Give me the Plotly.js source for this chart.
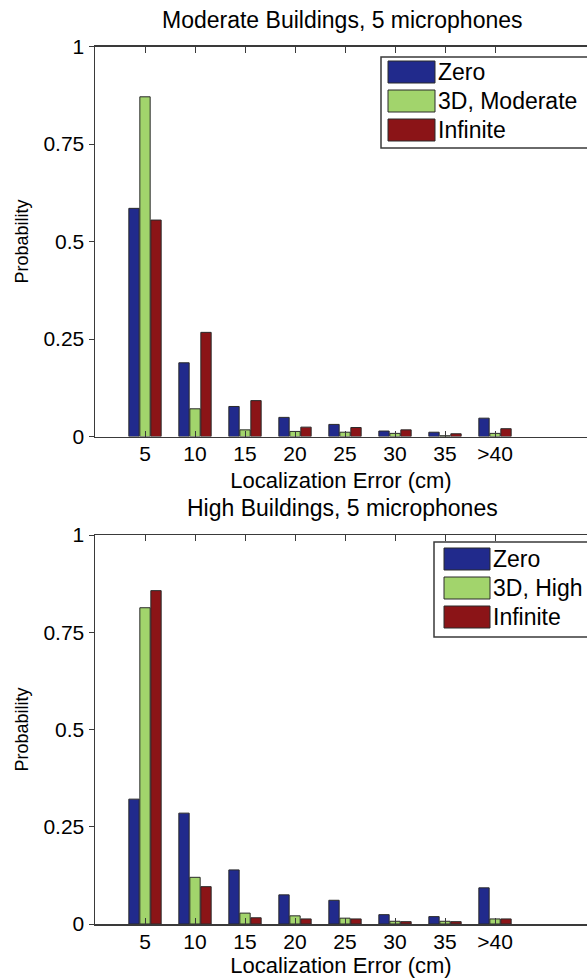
<!DOCTYPE html>
<html>
<head>
<meta charset="utf-8">
<script src="https://cdn.plot.ly/plotly-3.0.1.min.js"></script>
<style>html,body{margin:0;padding:0;background:#fff;overflow:hidden;}#chart{width:587px;height:978px;}</style>
</head>
<body>
<div id="chart"></div>
<script>
// ---- data ----
const categories = ['5', '10', '15', '20', '25', '30', '35', '>40'];
const seriesNamesTop = ['Zero', '3D, Moderate', 'Infinite'];
const seriesNamesBottom = ['Zero', '3D, High', 'Infinite'];
const topZero     = [0.585, 0.189, 0.077, 0.049, 0.031, 0.014, 0.011, 0.047];
const topModerate = [0.871, 0.071, 0.017, 0.013, 0.011, 0.008, 0.002, 0.008];
const topInfinite = [0.555, 0.267, 0.092, 0.024, 0.023, 0.017, 0.007, 0.020];
const botZero     = [0.321, 0.285, 0.139, 0.075, 0.061, 0.024, 0.019, 0.093];
const botHigh     = [0.813, 0.120, 0.028, 0.021, 0.015, 0.007, 0.007, 0.013];
const botInfinite = [0.857, 0.096, 0.016, 0.013, 0.013, 0.006, 0.006, 0.013];
const yTickVals = [0, 0.25, 0.5, 0.75, 1];
const yTickText = ['0', '0.25', '0.5', '0.75', '1'];
const titles = ['Moderate Buildings, 5 microphones', 'High Buildings, 5 microphones'];
const xTitle = 'Localization Error (cm)';
const yTitle = 'Probability';

// ---- style ----
const colors = ['#212a8c', '#a2d46c', '#8b1417'];
const edge = '#2a2a2a';
const axisColor = '#3a3a3a';
const FONT = 'Arial, "Liberation Sans", sans-serif';
const W = 587, H = 978, L = 95;
const px2x = px => (px - L) / (W - L);
const py2y = py => 1 - py / H;

function bars(vals, name, i, xa, ya) {
  return {type: 'bar', x: categories, y: vals, name: name, xaxis: xa, yaxis: ya,
    marker: {color: colors[i], line: {color: edge, width: 1}}, showlegend: false};
}
const data = [
  bars(topZero, seriesNamesTop[0], 0, 'x', 'y'),
  bars(topModerate, seriesNamesTop[1], 1, 'x', 'y'),
  bars(topInfinite, seriesNamesTop[2], 2, 'x', 'y'),
  bars(botZero, seriesNamesBottom[0], 0, 'x2', 'y2'),
  bars(botHigh, seriesNamesBottom[1], 1, 'x2', 'y2'),
  bars(botInfinite, seriesNamesBottom[2], 2, 'x2', 'y2')
];

function xax(anchor) {
  return {anchor: anchor, domain: [0, 1], type: 'category', range: [-1, -1 + (W - L) / 50],
    automargin: false,
    showgrid: false, zeroline: false, showline: true, linecolor: axisColor, linewidth: 1.5,
    mirror: 'ticks', ticks: 'inside', ticklen: 6, tickcolor: axisColor, tickwidth: 1,
    tickfont: {family: FONT, size: 21, color: '#000'}, ticklabelstandoff: -2,
    title: {text: xTitle, font: {family: FONT, size: 22, color: '#000'}, standoff: 8}};
}
function yax(anchor, dom) {
  return {anchor: anchor, domain: dom, range: [0, 1], tickvals: yTickVals, ticktext: yTickText,
    automargin: false,
    showgrid: false, zeroline: false, showline: true, linecolor: axisColor, linewidth: 1.5,
    ticks: 'outside', ticklen: 5, tickcolor: axisColor, tickwidth: 1,
    tickfont: {family: FONT, size: 21, color: '#000'},
    title: {text: yTitle, font: {family: FONT, size: 18, color: '#000'}, standoff: 10}};
}

const shapes = [], annotations = [];
function legend(names, box, patchX, rows, textX) {
  shapes.push({type: 'rect', xref: 'paper', yref: 'paper', x0: px2x(box[0]), x1: px2x(box[1]),
    y0: py2y(box[2]), y1: py2y(box[3]), line: {color: axisColor, width: 1.5}, fillcolor: '#fff', layer: 'above'});
  names.forEach((n, i) => {
    shapes.push({type: 'rect', xref: 'paper', yref: 'paper', x0: px2x(patchX[0]), x1: px2x(patchX[1]),
      y0: py2y(rows[i] - 11), y1: py2y(rows[i] + 11), line: {color: edge, width: 1},
      fillcolor: colors[i], layer: 'above'});
    annotations.push({xref: 'paper', yref: 'paper', x: px2x(textX), y: py2y(rows[i]), xanchor: 'left',
      yanchor: 'middle', text: n, showarrow: false, font: {family: FONT, size: 23, color: '#000'}});
  });
}
legend(seriesNamesTop, [381, 600, 57, 148], [388, 435], [72, 101, 130], 436);
legend(seriesNamesBottom, [434, 600, 542, 637], [444, 490], [559, 588, 617], 491);

annotations.push({xref: 'paper', yref: 'paper', x: px2x(342), y: py2y(20), xanchor: 'center', yanchor: 'middle',
  text: titles[0], showarrow: false, font: {family: FONT, size: 23, color: '#000'}});
annotations.push({xref: 'paper', yref: 'paper', x: px2x(342), y: py2y(508), xanchor: 'center', yanchor: 'middle',
  text: titles[1], showarrow: false, font: {family: FONT, size: 23, color: '#000'}});

const layout = {
  width: W, height: H, margin: {l: L, r: 0, t: 0, b: 0},
  paper_bgcolor: '#fff', plot_bgcolor: '#fff',
  barmode: 'group', bargap: 0.34, bargroupgap: 0.06,
  showlegend: false,
  xaxis: xax('y'), yaxis: yax('x', [py2y(436.5), py2y(46.5)]),
  xaxis2: xax('y2'), yaxis2: yax('x2', [py2y(924), py2y(535)]),
  shapes: shapes, annotations: annotations
};
Plotly.newPlot('chart', data, layout, {displayModeBar: false, staticPlot: true});
</script>
</body>
</html>
